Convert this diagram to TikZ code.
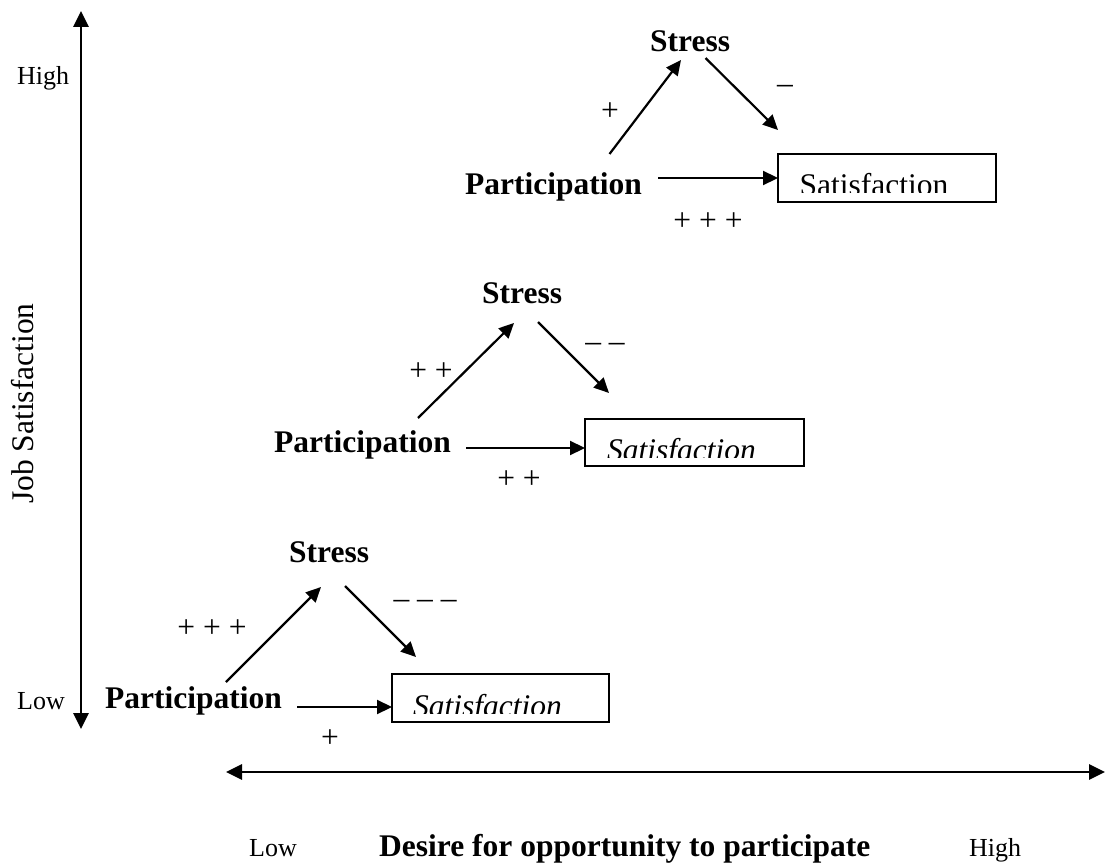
\documentclass[tikz,border=0pt]{standalone}
\usepackage{fontspec}
\setmainfont{Liberation Serif}
\usetikzlibrary{arrows.meta}

\begin{document}
\begin{tikzpicture}[x=1pt, y=-1pt,
	every node/.style={inner sep=0pt},
	concept/.style={font=\fontsize{31.5}{36}\selectfont\bfseries, anchor=base west},
	sign/.style={font=\fontsize{31.5}{36}\selectfont, anchor=base},
	endlabel/.style={font=\fontsize{26}{30}\selectfont, anchor=base west},
	sattext/.style={font=\fontsize{31.5}{36}\selectfont, anchor=base west},
	satbox/.style={draw, line width=2pt, outer sep=0pt},
	link/.style={line width=2.2pt, -{Triangle[length=15pt,width=14pt]}},
	axisline/.style={line width=2.8pt, {Triangle[length=16pt,width=15pt]}-{Triangle[length=16pt,width=15pt]}}]
			\useasboundingbox (0,0) rectangle (1106,864);
			\coordinate (ytop) at (81,11);
			\coordinate (ybot) at (81,729);
			\coordinate (xleft) at (226,772);
			\coordinate (xright) at (1105,772);
			\draw [axisline] (ybot) -- (ytop);
			\draw [axisline] (xleft) -- (xright);
			\node [endlabel] (yhigh) at (17,85) {High};
			\node [endlabel] (ylow) at (17,709) {Low};
			\node [font=\fontsize{31.5}{36}\selectfont, rotate=90, anchor=base] (ylab) at (33,403.5) {Job Satisfaction};
			\node [endlabel] (xlow) at (249,856) {Low};
			\node [concept] (xlab) at (379,856) {Desire for opportunity to participate};
			\node [endlabel] (xhigh) at (969,856) {High};
			% low desire
			\node [concept] (part1) at (105,708) {Participation};
			\node [concept] (stress1) at (289,562) {Stress};
			\node [satbox, minimum width=217pt, minimum height=48pt] (sat1) at (500.5,698) {};
			\begin{scope}
				\clip (sat1.north west) rectangle ([yshift=9pt]sat1.south east);
				\node [sattext] (txt1) at (413,716) {\itshape Satisfaction};
			\end{scope}
			\draw [link] ([shift={(121,-26)}]part1.base west) -- ([shift={(32,25)}]stress1.base west);
			\draw [link] ([shift={(56,24)}]stress1.base west) -- ([shift={(24,-17)}]sat1.north west);
			\draw [link] ([shift={(192,-1)}]part1.base west) -- ([shift={(0,-15)}]sat1.south west);
			\node [sign] (up1) at (212,637) {+ + +};
			\node [sign] (down1) at (425,608) {– – –};
			\node [sign] (direct1) at (330,747) {+};
			% middle desire
			\node [concept] (part2) at (274,452) {Participation};
			\node [concept] (stress2) at (482,303) {Stress};
			\node [satbox, minimum width=219pt, minimum height=47pt] (sat2) at (694.5,442.5) {};
			\begin{scope}
				\clip (sat2.north west) rectangle ([yshift=9pt]sat2.south east);
				\node [sattext] (txt2) at (607,460) {\itshape Satisfaction};
			\end{scope}
			\draw [link] ([shift={(144,-34)}]part2.base west) -- ([shift={(32,20)}]stress2.base west);
			\draw [link] ([shift={(56,19)}]stress2.base west) -- ([shift={(24,-26)}]sat2.north west);
			\draw [link] ([shift={(192,-4)}]part2.base west) -- ([shift={(0,-18)}]sat2.south west);
			\node [sign] (up2) at (431,380) {+ +};
			\node [sign] (down2) at (605,351) {– –};
			\node [sign] (direct2) at (519,488) {+ +};
			% high desire
			\node [concept] (part3) at (465,194) {Participation};
			\node [concept] (stress3) at (650,52) {Stress};
			\node [satbox, minimum width=217.5pt, minimum height=48pt] (sat3) at (886.75,178) {};
			\begin{scope}
				\clip (sat3.north west) rectangle ([yshift=10pt]sat3.south east);
				\node [sattext] (txt3) at (799.5,195) {Satisfaction};
			\end{scope}
			\draw [link] ([shift={(144.5,-40)}]part3.base west) -- ([shift={(31,8)}]stress3.base west);
			\draw [link] ([shift={(55.5,6)}]stress3.base west) -- ([shift={(0,-24)}]sat3.north west);
			\draw [link] ([shift={(193,-16)}]part3.base west) -- (sat3.west);
			\node [sign] (up3) at (610,121) {+};
			\node [sign] (down3) at (785,94) {–};
			\node [sign] (direct3) at (708,230) {+ + +};
\end{tikzpicture}
\end{document}
